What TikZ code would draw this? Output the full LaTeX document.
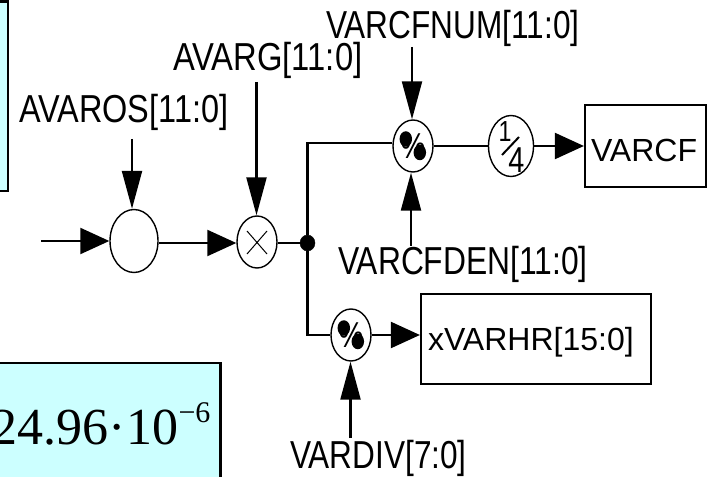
\documentclass[tikz,border=0pt]{standalone}
\usepackage{fontspec}
\setmainfont{Liberation Sans}
\newfontfamily\serfont{Liberation Serif}
\usetikzlibrary{arrows.meta,shapes.geometric}
\definecolor{notecyan}{HTML}{CCFFFF}
\newcommand{\condlabel}[2]{\scalebox{#1}[1]{\fontsize{39bp}{39bp}\selectfont #2}}
\tikzset{
  x=1bp,y=-1bp,
  op/.style={draw,ellipse,line width=1.4bp,inner sep=0pt,minimum width=40bp,minimum height=52bp,fill=white},
  lab/.style={anchor=base west,inner sep=0pt,outer sep=0pt,font=\fontsize{32bp}{32bp}\selectfont},
  conn/.style={line width=2.2bp},
  vtip/.style={conn,-{Triangle[length=38bp,width=20bp]}},
  htip/.style={conn,-{Triangle[length=29bp,width=26bp]}},
  outbox/.style={draw,line width=2.2bp,inner sep=0pt},
  note/.style={draw=black,line width=2.2bp,fill=notecyan},
  pct/.style={op,font=\fontsize{36bp}{36bp}\selectfont},
  pctdot/.style={fill=black,draw=none,ellipse,inner sep=0pt,minimum width=12.5bp,minimum height=15.5bp},
}
\begin{document}
\begin{tikzpicture}
\path[use as bounding box] (0,0) rectangle (710,477);
\clip (0,0) rectangle (710,477);
\fill[white] (0,0) rectangle (710,477);
% cyan notes
\draw[note] (-6,1.5) rectangle (8,191);
\draw[note] (-6,363) rectangle (220.5,490);
\node[anchor=base west,inner sep=0pt] (formula) at (-9,444) {\serfont\fontsize{52bp}{52bp}\selectfont 24.96·\kern1bp 10\raisebox{22bp}{\fontsize{30bp}{30bp}\selectfont −6}};
% labels
\node[lab] (lavaros) at (19,123) {\condlabel{0.832}{AVAROS[11:0]}};
\node[lab] (lavarg) at (173,71) {\condlabel{0.84}{AVARG[11:0]}};
\node[lab] (lnum) at (326,39) {\condlabel{0.81}{VARCFNUM[11:0]}};
\node[lab] (lden) at (338,275) {\condlabel{0.815}{VARCFDEN[11:0]}};
\node[lab] (ldiv) at (290,468) {\condlabel{0.81}{VARDIV[7:0]}};
% operators
\node[op,minimum width=48bp,minimum height=63bp] (sum) at (134,241) {};
\node[op] (mul) at (257,242) {};
\node[pct] (divtop) at (413,146) {\scalebox{0.78}[1]{\%}};
\node[op,minimum width=45bp,minimum height=61bp] (quarter) at (511,146) {};
\node[pct] (divlow) at (351,335) {\scalebox{0.78}[1]{\%}};
\node[pctdot] at (405.8,139) {};
\node[pctdot] at (419.8,152.5) {};
\node[pctdot] at (343.8,328) {};
\node[pctdot] at (357.8,341.5) {};
\draw[line width=1bp] (247,231) -- (267,254) (267,231) -- (247,254);
\node[inner sep=0pt] (qone) at (505,132) {\scalebox{0.8}[1]{\fontsize{29bp}{29bp}\selectfont 1}};
\node[inner sep=0pt] (qfour) at (516.5,160) {\scalebox{0.8}[1]{\fontsize{36bp}{36bp}\selectfont 4}};
\draw[line width=2bp] (502,155) -- (519,137);
% boxes
\node[outbox,minimum width=121bp,minimum height=82bp] (varcfbox) at (645.5,146) {};
\node[lab] (varcf) at (591,162) {VARCF};
\node[outbox,minimum width=230bp,minimum height=90bp] (hrbox) at (536,339) {};
\node[lab] (hr) at (428,350) {xVARHR[15:0]};
% free ends
\coordinate (in0) at (41,241);
\coordinate (a0) at (132,139);
\coordinate (b0) at (256.5,82);
\coordinate (c0) at (412,47);
\coordinate (d0) at (411,246);
\coordinate (e0) at (350.5,438);
\node[draw,fill=black,ellipse,inner sep=0pt,minimum width=15bp,minimum height=16bp] (dot) at (307.5,243) {};
% connectors
\draw[htip] (in0) -- (sum.west |- in0);
\draw[htip] (sum.east |- dot) -- (mul.west |- dot);
\draw[conn] (mul.east |- dot) -- (dot);
\draw[conn] (dot) |- ([yshift=3bp]divtop.west);
\draw[conn] (dot) |- (divlow.west);
\draw[conn] (divtop.east) -- (quarter.west);
\draw[htip] (quarter.east) -- (varcfbox.west);
\draw[htip] (divlow.east) -- (hrbox.west |- divlow.east);
\draw[vtip] (a0) -- (a0 |- sum.north);
\draw[vtip] (b0) -- (b0 |- mul.north);
\draw[vtip] (c0) -- (c0 |- divtop.north);
\draw[vtip] (d0) -- (d0 |- divtop.south);
\draw[vtip] (e0) -- (e0 |- divlow.south);
\end{tikzpicture}
\end{document}
